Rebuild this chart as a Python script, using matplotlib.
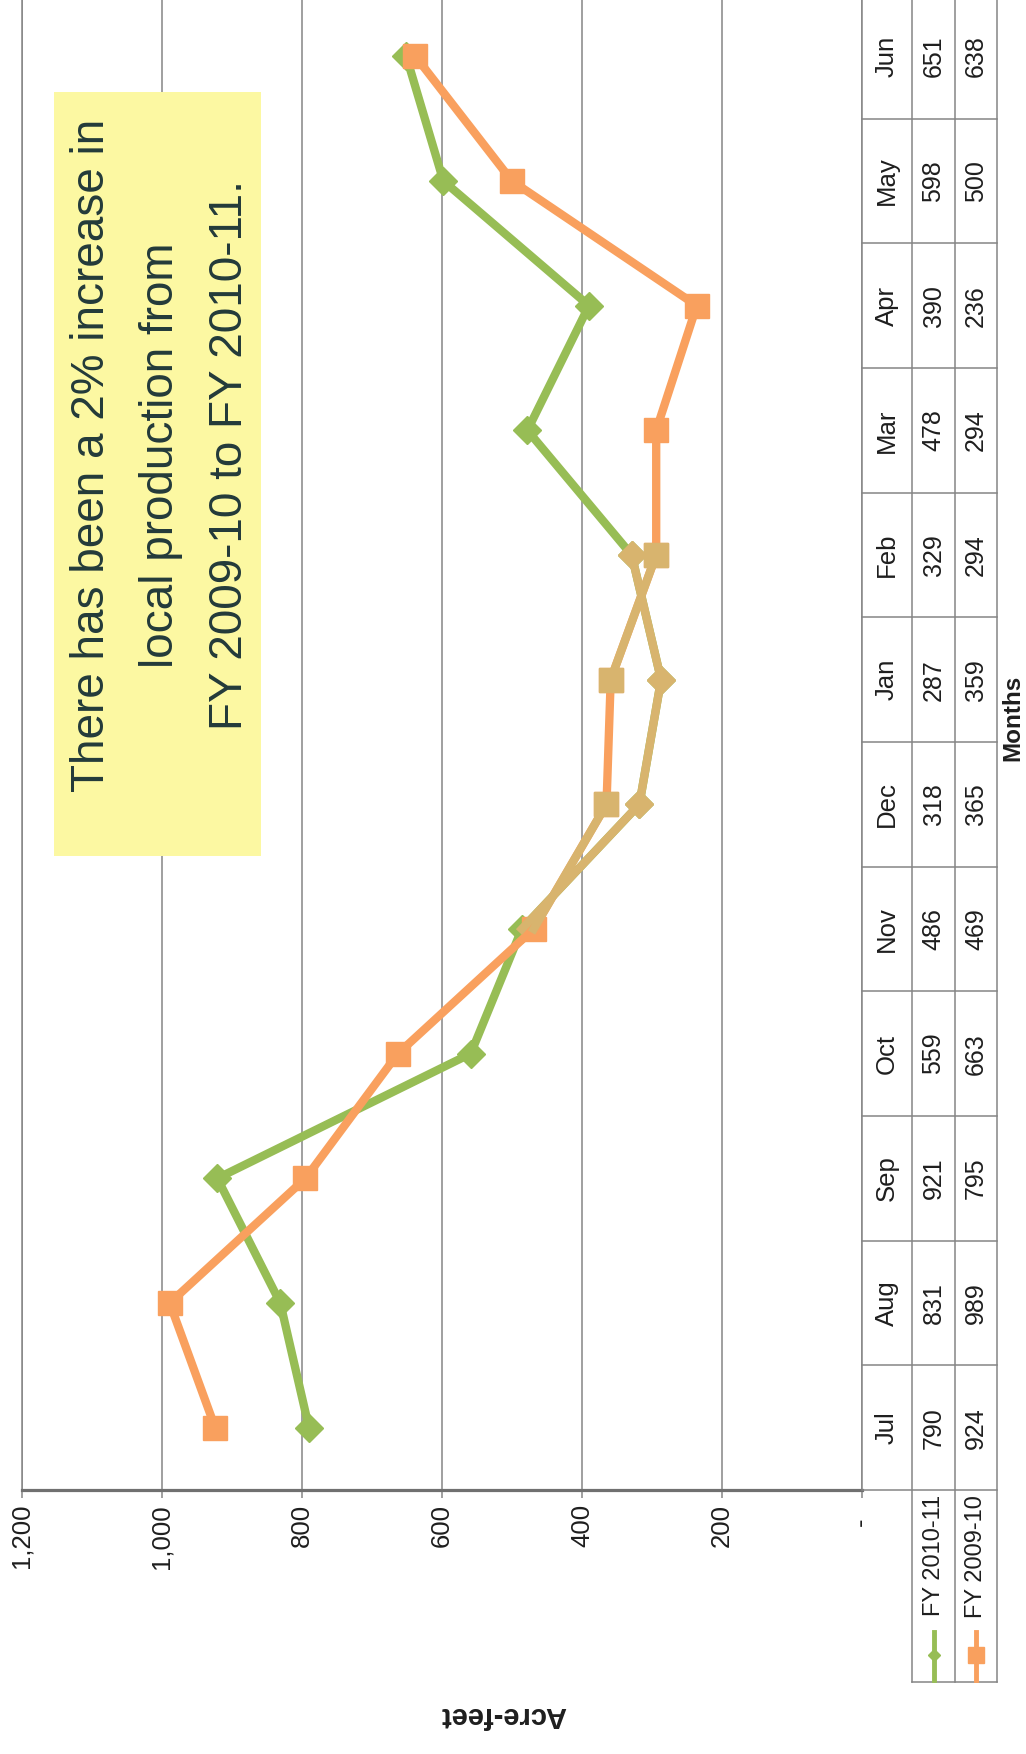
import matplotlib
matplotlib.use("Agg")
import matplotlib.pyplot as plt
from matplotlib.patches import Rectangle

# monthly local production, acre-feet
months = ["Jul", "Aug", "Sep", "Oct", "Nov", "Dec", "Jan", "Feb", "Mar", "Apr", "May", "Jun"]
fy_2010_11 = [790, 831, 921, 559, 486, 318, 287, 329, 478, 390, 598, 651]
fy_2009_10 = [924, 989, 795, 663, 469, 365, 359, 294, 294, 236, 500, 638]
series_names = ["FY 2010-11", "FY 2009-10"]
value_ticks = [0, 200, 400, 600, 800, 1000, 1200]
note_lines = ["There has been a 2% increase in",
              "local production from",
              "FY 2009-10 to FY 2010-11."]

W, H = 1026, 1754
GREEN = "#97BD55"
ORANGE = "#F9A05E"
TAN = "#D8B46E"
GRID = "#858585"
TEXT = "#1E1E1E"

plt.rcParams["font.family"] = ["Liberation Sans", "DejaVu Sans"]


def fx(px):
    return px / W


def fy(py):
    return 1 - py / H


fig = plt.figure(figsize=(W / 100, H / 100), dpi=100)

# page is turned sideways: values run right to left, months bottom to top
L, R, T, B = 22, 862, -6, 1490
row_h = (B - T) / len(months)
ax = fig.add_axes([fx(L), fy(B), fx(R - L), (B - T) / H])
idx = list(range(len(months)))
ax.set_xlim(1200, 0)
ax.set_ylim(-0.5, len(months) - 0.5)

ax.set_xticks(value_ticks)
ax.set_xticklabels(["-  " if v == 0 else f"{v:,}" for v in value_ticks])
ax.tick_params(axis="x", direction="out", length=6, width=1.1, color=GRID,
               pad=4, labelsize=18.5, labelrotation=90, labelcolor=TEXT)
ax.set_yticks([])
ax.grid(axis="x", color=GRID, lw=1.1)
ax.set_axisbelow(True)
for side in ["left", "right"]:
    ax.spines[side].set_color(GRID)
    ax.spines[side].set_linewidth(1.1)
ax.spines["top"].set_visible(False)
ax.spines["bottom"].set_color("#707070")
ax.spines["bottom"].set_linewidth(2.3)

ax.plot(fy_2010_11, idx, color=GREEN, lw=6, marker="D", ms=14, zorder=3)
ax.plot(fy_2009_10, idx, color=ORANGE, lw=6, marker="s", ms=17, zorder=4)

# brownish print tint where the two lines run together in winter
ax.plot(fy_2010_11[4:8], idx[4:8], color=TAN, lw=6, marker="D", ms=14,
        markevery=[1, 2, 3], zorder=5)
ax.plot(fy_2009_10[4:6], idx[4:6], color=TAN, lw=6, zorder=5)
ax.plot(fy_2009_10[6:8], idx[6:8], color=TAN, lw=6, marker="s", ms=17, zorder=5)
ax.plot(fy_2009_10[5:6], idx[5:6], color=TAN, marker="s", ms=17, lw=0, zorder=5)

# note box
fig.add_artist(Rectangle((fx(54), fy(856)), fx(261) - fx(54), (856 - 92) / H,
                         transform=fig.transFigure, facecolor="#FCF8A2",
                         edgecolor="none", zorder=5))
for x, line in zip([92, 161, 230], note_lines):
    fig.text(fx(x), fy(455), line, rotation=90, ha="center", va="center",
             fontsize=33, color="#233A3A", zorder=6)

# data table on the category side
tax = fig.add_axes([fx(R), fy(B), fx(997 - R), (B - T) / H])
tax.set_xlim(0, 997 - R)
tax.set_ylim(-0.5, len(months) - 0.5)
tax.axis("off")
col_edges = [0, 50, 93, 135]
col_mid = [25, 71.5, 114]
leg_bottom = -0.5 - (1682 - B) / row_h
for x in col_edges[1:]:
    tax.plot([x, x], [leg_bottom, len(months) - 0.5], color=GRID, lw=1.1, clip_on=False)
for k in range(len(months) + 1):
    tax.plot([0, col_edges[-1]], [k - 0.5, k - 0.5], color=GRID, lw=1.1, clip_on=False)
tax.plot([col_edges[1], col_edges[-1]], [leg_bottom, leg_bottom], color=GRID, lw=1.1,
         clip_on=False)

for i, m in enumerate(months):
    tax.text(col_mid[0], i, m, rotation=90, ha="center", va="center",
             fontsize=18.5, color=TEXT)
    tax.text(col_mid[1], i, str(fy_2010_11[i]), rotation=90, ha="center",
             va="center", fontsize=18, color=TEXT)
    tax.text(col_mid[2], i, str(fy_2009_10[i]), rotation=90, ha="center",
             va="center", fontsize=18, color=TEXT)

# legend keys inside the table's row headers
key_top = -0.5 - 142 / row_h
key_mid = -0.5 - 165 / row_h
for x, name, color, mk, ms in zip(col_mid[1:], series_names, [GREEN, ORANGE],
                                  ["D", "s"], [6, 11]):
    tax.text(x, -0.5 - 5 / row_h, name, rotation=90, ha="center", va="top",
             fontsize=17, color=TEXT, clip_on=False)
    tax.plot([x, x], [key_top, leg_bottom + 2 / row_h], color=color, lw=3.5,
             clip_on=False)
    tax.plot([x], [key_mid], marker=mk, ms=ms, color=color, clip_on=False)

fig.text(fx(1013), fy(718), "Months", rotation=90, fontweight="bold",
         fontsize=17.5, ha="center", va="center", color=TEXT)
fig.text(fx(503), fy(1715), "Acre-feet", rotation=180, fontweight="bold",
         fontsize=21, ha="center", va="center", color=TEXT)

fig.savefig("out.png", dpi=100, facecolor="white")
